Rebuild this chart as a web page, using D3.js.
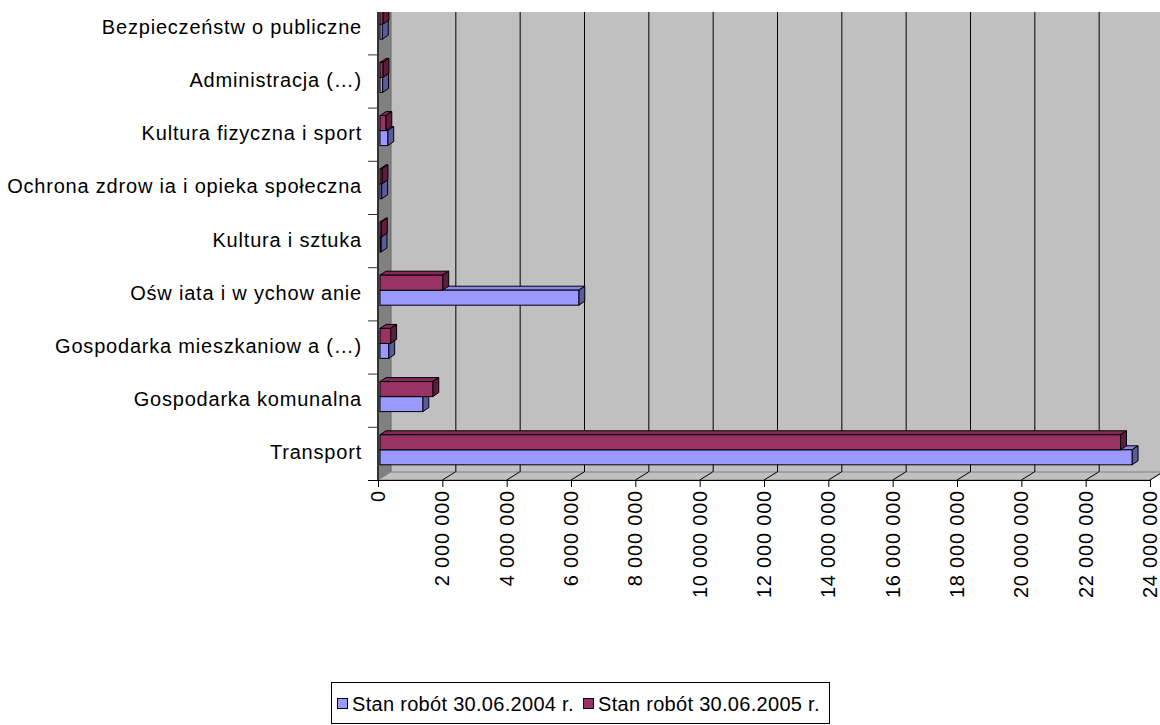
<!DOCTYPE html>
<html>
<head>
<meta charset="utf-8">
<script src="https://cdn.jsdelivr.net/npm/d3@7"></script>
<style>
  body { margin: 0; background: #fff; }
  svg text { font-family: "Liberation Sans", Arial, sans-serif; font-size: 20px; letter-spacing: 0.8px; fill: #000; }
  svg .legend text { letter-spacing: 0.3px; }
</style>
</head>
<body>
<svg id="chart" width="1160" height="725"></svg>
<script>
// categories from top to bottom, as printed
var categories = [
  'Bezpieczeństw o publiczne',
  'Administracja (…)',
  'Kultura fizyczna i sport',
  'Ochrona zdrow ia i opieka społeczna',
  'Kultura i sztuka',
  'Ośw iata i w ychow anie',
  'Gospodarka mieszkaniow a (…)',
  'Gospodarka komunalna',
  'Transport'
];
var seriesNames = ['Stan robót 30.06.2004 r.', 'Stan robót 30.06.2005 r.'];
var values2004 = [70000, 80000, 240000, 50000, 30000, 6180000, 270000, 1330000, 23380000];
var values2005 = [90000, 90000, 180000, 60000, 40000, 1950000, 330000, 1640000, 23020000];
var xTicks = [0, 2e6, 4e6, 6e6, 8e6, 10e6, 12e6, 14e6, 16e6, 18e6, 20e6, 22e6, 24e6];

var svg = d3.select('#chart');

var floorY = 480, topClip = 12;
var depth = { dx: 13, dy: 8 };      // wall / floor depth
var barDepth = { dx: 6, dy: 4 };    // depth of each bar
var bandSize = 53.2;

var x = d3.scaleLinear().domain([0, 24e6]).range([378, 1150]);
var y = d3.scaleBand().domain(categories)
  .range([floorY - categories.length * bandSize, floorY]).padding(0);

var fmt = function (d) { return d3.format(',')(d).replace(/,/g, ' '); };

svg.append('defs').append('clipPath').attr('id', 'plotClip')
  .append('rect').attr('x', 0).attr('y', topClip).attr('width', 1160).attr('height', 600);

var plot = svg.append('g').attr('clip-path', 'url(#plotClip)');

// back wall
plot.append('rect')
  .attr('x', x(0) + depth.dx).attr('y', 0)
  .attr('width', 1160).attr('height', floorY - depth.dy)
  .attr('fill', '#c0c0c0');

// side wall
plot.append('path')
  .attr('d', 'M' + x(0) + ',0 L' + (x(0) + depth.dx) + ',0 L' + (x(0) + depth.dx) + ',' + (floorY - depth.dy) +
    ' L' + x(0) + ',' + floorY + 'Z')
  .attr('fill', '#808080');
plot.append('line')
  .attr('x1', x(0) + depth.dx).attr('x2', x(0) + depth.dx)
  .attr('y1', 0).attr('y2', floorY - depth.dy)
  .attr('stroke', '#666').attr('stroke-width', 1);

// floor
plot.append('path')
  .attr('d', 'M' + x(0) + ',' + floorY + ' L' + x(24e6) + ',' + floorY + ' L' + (x(24e6) + depth.dx) + ',' + (floorY - depth.dy) +
    ' L' + (x(0) + depth.dx) + ',' + (floorY - depth.dy) + 'Z')
  .attr('fill', '#c0c0c0').attr('stroke', '#808080').attr('stroke-width', 1);

// gridlines on back wall and floor
xTicks.slice(1).forEach(function (t) {
  plot.append('line')
    .attr('x1', x(t) + depth.dx + 0.5).attr('x2', x(t) + depth.dx + 0.5)
    .attr('y1', 0).attr('y2', floorY - depth.dy)
    .attr('stroke', '#000').attr('stroke-width', 1);
  plot.append('line')
    .attr('x1', x(t)).attr('x2', x(t) + depth.dx)
    .attr('y1', floorY).attr('y2', floorY - depth.dy)
    .attr('stroke', '#000').attr('stroke-width', 1);
});

// bars
var barH = 15, redTop = 8;
var barX0 = x(0) + 2;
var styles = [
  { front: '#9999ff', top: '#8686e6', side: '#5b5b9c' },
  { front: '#993366', top: '#86295a', side: '#5c1e3d' }
];

function drawBar(g, v, yTop, st) {
  var x0 = barX0, x1 = barX0 + (x(v) - x(0));
  var dx = barDepth.dx, dy = barDepth.dy;
  g.append('path')
    .attr('d', 'M' + x0 + ',' + yTop + ' L' + (x0 + dx) + ',' + (yTop - dy) + ' L' + (x1 + dx) + ',' + (yTop - dy) + ' L' + x1 + ',' + yTop + 'Z')
    .attr('fill', st.top).attr('stroke', '#000').attr('stroke-width', 1).attr('stroke-linejoin', 'round');
  g.append('path')
    .attr('d', 'M' + x1 + ',' + yTop + ' L' + (x1 + dx) + ',' + (yTop - dy) + ' L' + (x1 + dx) + ',' + (yTop + barH - dy) + ' L' + x1 + ',' + (yTop + barH) + 'Z')
    .attr('fill', st.side).attr('stroke', '#000').attr('stroke-width', 1).attr('stroke-linejoin', 'round');
  g.append('rect')
    .attr('x', x0).attr('y', yTop).attr('width', x1 - x0).attr('height', barH)
    .attr('fill', st.front).attr('stroke', '#000').attr('stroke-width', 1);
}

var bars = plot.append('g');
categories.forEach(function (c, i) {
  var b = y(c);
  drawBar(bars, values2004[i], b + redTop + barH, styles[0]);
  drawBar(bars, values2005[i], b + redTop, styles[1]);
});

// left axis line and ticks
plot.append('line')
  .attr('x1', x(0)).attr('x2', x(0)).attr('y1', 0).attr('y2', floorY)
  .attr('stroke', '#333').attr('stroke-width', 2);
var catBounds = categories.map(function (c) { return y(c); }).concat([floorY]);
catBounds.forEach(function (b) {
  plot.append('line')
    .attr('x1', x(0) - 10).attr('x2', x(0)).attr('y1', b + 0.5).attr('y2', b + 0.5)
    .attr('stroke', '#333').attr('stroke-width', 1);
});

// front (value) axis
svg.append('line')
  .attr('x1', x(0) - 10).attr('x2', x(24e6)).attr('y1', floorY + 0.5).attr('y2', floorY + 0.5)
  .attr('stroke', '#000').attr('stroke-width', 1);
xTicks.forEach(function (t) {
  svg.append('line')
    .attr('x1', x(t) + 0.5).attr('x2', x(t) + 0.5).attr('y1', floorY).attr('y2', floorY + 7)
    .attr('stroke', '#000').attr('stroke-width', 1);
  svg.append('text')
    .attr('transform', 'translate(' + x(t) + ',' + (floorY + 10) + ') rotate(-90)')
    .attr('text-anchor', 'end').attr('dy', '0.35em')
    .text(fmt(t));
});

// category labels
categories.forEach(function (c) {
  svg.append('text')
    .attr('x', 362).attr('y', y(c) + y.bandwidth() / 2 - 1)
    .attr('text-anchor', 'end').attr('dy', '0.35em')
    .text(c);
});

// legend
var legend = svg.append('g').attr('class', 'legend');
legend.append('rect')
  .attr('x', 331.5).attr('y', 682.5).attr('width', 498).attr('height', 41)
  .attr('fill', '#fff').attr('stroke', '#000').attr('stroke-width', 1);
var legendX = [337, 583];
seriesNames.forEach(function (name, i) {
  legend.append('rect')
    .attr('x', legendX[i] + 0.5).attr('y', 698.5).attr('width', 10).attr('height', 10)
    .attr('fill', styles[i].front).attr('stroke', '#000').attr('stroke-width', 1);
  legend.append('text')
    .attr('x', legendX[i] + 15).attr('y', 703.5).attr('dy', '0.35em')
    .text(name);
});
</script>
</body>
</html>
